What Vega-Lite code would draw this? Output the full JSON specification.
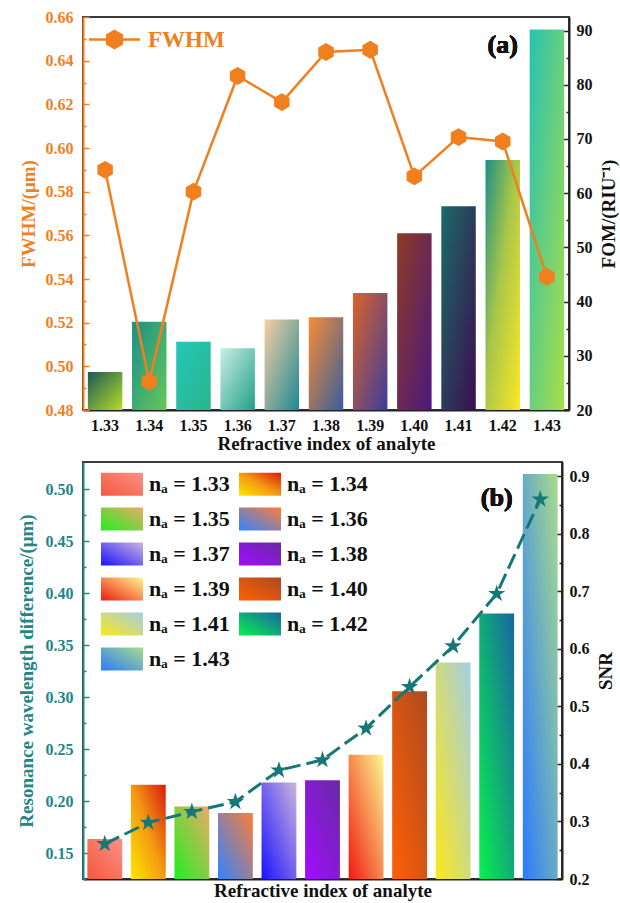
{
  "$schema": "https://vega.github.io/schema/vega-lite/v6.json",
  "padding": {"left": 16, "top": 8, "right": 2, "bottom": 2},
  "spacing": 7,
  "data": {
    "values": [
      {"n": "1.33", "fwhm": 0.590, "fom": 27.0, "dl": 0.1635, "snr": 0.261},
      {"n": "1.34", "fwhm": 0.493, "fom": 36.3, "dl": 0.2157, "snr": 0.298},
      {"n": "1.35", "fwhm": 0.580, "fom": 32.6, "dl": 0.1946, "snr": 0.317},
      {"n": "1.36", "fwhm": 0.633, "fom": 31.4, "dl": 0.1885, "snr": 0.334},
      {"n": "1.37", "fwhm": 0.621, "fom": 36.7, "dl": 0.2179, "snr": 0.389},
      {"n": "1.38", "fwhm": 0.644, "fom": 37.1, "dl": 0.2199, "snr": 0.407},
      {"n": "1.39", "fwhm": 0.645, "fom": 41.6, "dl": 0.2446, "snr": 0.462},
      {"n": "1.40", "fwhm": 0.587, "fom": 52.6, "dl": 0.3055, "snr": 0.534},
      {"n": "1.41", "fwhm": 0.605, "fom": 57.6, "dl": 0.3333, "snr": 0.605},
      {"n": "1.42", "fwhm": 0.603, "fom": 66.1, "dl": 0.3804, "snr": 0.696},
      {"n": "1.43", "fwhm": 0.541, "fom": 90.2, "dl": 0.5144, "snr": 0.860}
    ]
  },
  "vconcat": [
    {
      "width": 486,
      "height": 393,
      "layer": [
        {
          "mark": {"type": "bar"},
          "encoding": {
            "x": {
              "field": "n", "type": "nominal",
              "scale": {"paddingInner": 0.22, "paddingOuter": 0.11},
              "axis": {"title": "Refractive index of analyte", "labelAngle": 0, "tickSize": -5, "labelPadding": 12, "titlePadding": 1}
            },
            "y": {
              "field": "fom", "type": "quantitative",
              "scale": {"domain": [20, 92.5], "nice": false, "zero": false},
              "axis": {
                "orient": "right", "title": "FOM/(RIU⁻¹)", "titleAngle": 270, "titleBaseline": "top", "titlePadding": 7,
                "values": [20, 25, 30, 35, 40, 45, 50, 55, 60, 65, 70, 75, 80, 85, 90],
                "labelExpr": "datum.value % 10 == 0 ? datum.label : ''",
                "tickSize": {"condition": {"test": "datum.value % 10 == 0", "value": -6}, "value": -3},
                "labelPadding": 13
              }
            },
            "y2": {"datum": 20},
            "color": {
              "condition": [
                {"test": "datum.n == '1.33'", "value": {"gradient": "linear", "x1": 0, "y1": 0, "x2": 1, "y2": 1, "stops": [{"offset": 0, "color": "#1b5956"}, {"offset": 1, "color": "#b5dc2a"}]}},
                {"test": "datum.n == '1.34'", "value": {"gradient": "linear", "x1": 0, "y1": 0, "x2": 1, "y2": 1, "stops": [{"offset": 0, "color": "#1a8f88"}, {"offset": 1, "color": "#66c75a"}]}},
                {"test": "datum.n == '1.35'", "value": {"gradient": "linear", "x1": 0, "y1": 0, "x2": 1, "y2": 1, "stops": [{"offset": 0, "color": "#25c6b8"}, {"offset": 1, "color": "#2ab58c"}]}},
                {"test": "datum.n == '1.36'", "value": {"gradient": "linear", "x1": 0, "y1": 0, "x2": 1, "y2": 1, "stops": [{"offset": 0, "color": "#cbeee4"}, {"offset": 1, "color": "#21a08a"}]}},
                {"test": "datum.n == '1.37'", "value": {"gradient": "linear", "x1": 0, "y1": 0, "x2": 1, "y2": 1, "stops": [{"offset": 0, "color": "#f7cfa4"}, {"offset": 1, "color": "#1e8893"}]}},
                {"test": "datum.n == '1.38'", "value": {"gradient": "linear", "x1": 0, "y1": 0, "x2": 1, "y2": 1, "stops": [{"offset": 0, "color": "#f88c36"}, {"offset": 1, "color": "#385e9c"}]}},
                {"test": "datum.n == '1.39'", "value": {"gradient": "linear", "x1": 0, "y1": 0, "x2": 1, "y2": 1, "stops": [{"offset": 0, "color": "#dc6328"}, {"offset": 1, "color": "#3c3c9e"}]}},
                {"test": "datum.n == '1.40'", "value": {"gradient": "linear", "x1": 0, "y1": 0, "x2": 1, "y2": 1, "stops": [{"offset": 0, "color": "#8e3b24"}, {"offset": 1, "color": "#4b187e"}]}},
                {"test": "datum.n == '1.41'", "value": {"gradient": "linear", "x1": 0, "y1": 0, "x2": 1, "y2": 1, "stops": [{"offset": 0, "color": "#1b6b66"}, {"offset": 1, "color": "#3b0d50"}]}},
                {"test": "datum.n == '1.42'", "value": {"gradient": "linear", "x1": 0, "y1": 0, "x2": 1, "y2": 1, "stops": [{"offset": 0, "color": "#1a8f86"}, {"offset": 0.45, "color": "#a8c64a"}, {"offset": 1, "color": "#fde725"}]}},
                {"test": "datum.n == '1.43'", "value": {"gradient": "linear", "x1": 0, "y1": 0, "x2": 1, "y2": 1, "stops": [{"offset": 0, "color": "#27c1b3"}, {"offset": 1, "color": "#a8de48"}]}}
              ],
              "value": "#2aa58f"
            }
          }
        },
        {
          "encoding": {
            "x": {"field": "n", "type": "nominal"},
            "y": {
              "field": "fwhm", "type": "quantitative",
              "scale": {"domain": [0.48, 0.66], "nice": false, "zero": false},
              "axis": {
                "orient": "left", "title": "FWHM/(μm)", "titlePadding": 7,
                "values": [0.48, 0.49, 0.5, 0.51, 0.52, 0.53, 0.54, 0.55, 0.56, 0.57, 0.58, 0.59, 0.6, 0.61, 0.62, 0.63, 0.64, 0.65, 0.66],
                "labelExpr": "round(datum.value*100) % 2 == 0 ? format(datum.value, '.2f') : ''",
                "tickSize": {"condition": {"test": "round(datum.value*100) % 2 == 0", "value": -6}, "value": -3},
                "labelPadding": 16,
                "domainColor": "#F07F1E", "tickColor": "#F07F1E", "labelColor": "#F07F1E", "titleColor": "#F07F1E"
              }
            }
          },
          "layer": [
            {
              "mark": {"type": "line", "strokeWidth": 2.5},
              "encoding": {
                "color": {
                  "datum": "FWHM", "type": "nominal",
                  "scale": {"range": ["#F07F1E"]},
                  "legend": {
                    "orient": "none", "legendX": 20, "legendY": 11, "title": null, "padding": 0,
                    "symbolType": "M-3,0H-0.866M0.866,0H3M0,-1L0.866,-0.5L0.866,0.5L0,1L-0.866,0.5L-0.866,-0.5Z",
                    "symbolSize": 289, "symbolStrokeWidth": 2.5,
                    "symbolFillColor": "#F07F1E", "symbolStrokeColor": "#F07F1E",
                    "labelFontSize": 23, "labelColor": "#F07F1E", "labelFont": "Liberation Serif", "labelFontWeight": "bold", "labelOffset": 22,
                    "encoding": {"symbols": {"fill": {"value": "#F07F1E"}, "stroke": {"value": "#F07F1E"}, "strokeWidth": {"value": 2.5}}}
                  }
                }
              }
            },
            {
              "mark": {"type": "point", "shape": "M0,-1L0.866,-0.5L0.866,0.5L0,1L-0.866,0.5L-0.866,-0.5Z", "filled": true, "size": 320, "color": "#F07F1E", "opacity": 1}
            },
            {
              "mark": {"type": "text", "text": "(a)", "font": "Liberation Serif", "fontSize": 26, "fontWeight": "bold", "color": "#111", "baseline": "middle"},
              "encoding": {
                "x": {"datum": "1.42", "type": "nominal"},
                "y": {"datum": 0.647, "type": "quantitative"}
              }
            }
          ]
        }
      ],
      "resolve": {"scale": {"y": "independent"}}
    },
    {
      "width": 479,
      "height": 417,
      "layer": [
        {
          "mark": {"type": "bar", "strokeWidth": 0},
          "encoding": {
            "x": {
              "field": "n", "type": "nominal",
              "scale": {"paddingInner": 0.2, "paddingOuter": 0.1},
              "axis": {"title": "Refractive index of analyte", "labels": false, "tickSize": -5, "titlePadding": 2}
            },
            "y": {
              "field": "dl", "type": "quantitative",
              "scale": {"domain": [0.125, 0.526], "nice": false, "zero": false},
              "axis": {
                "orient": "left", "title": "Resonance wavelength difference/(μm)", "titlePadding": 9,
                "values": [0.125, 0.15, 0.175, 0.2, 0.225, 0.25, 0.275, 0.3, 0.325, 0.35, 0.375, 0.4, 0.425, 0.45, 0.475, 0.5],
                "labelExpr": "round(datum.value*40) % 2 == 0 ? format(datum.value, '.2f') : ''",
                "tickSize": {"condition": {"test": "round(datum.value*40) % 2 == 0", "value": -6}, "value": -3},
                "labelPadding": 16,
                "domainColor": "#238585", "tickColor": "#238585", "labelColor": "#238585", "titleColor": "#238585"
              }
            },
            "y2": {"datum": 0.125},
            "color": {
              "condition": [
                {"test": "datum.n == '1.33'", "value": {"gradient": "linear", "x1": 0, "y1": 1, "x2": 1, "y2": 0, "stops": [{"offset": 0, "color": "#f4583a"}, {"offset": 1, "color": "#fc9088"}]}},
                {"test": "datum.n == '1.34'", "value": {"gradient": "linear", "x1": 0, "y1": 1, "x2": 1, "y2": 0, "stops": [{"offset": 0, "color": "#ffe600"}, {"offset": 0.5, "color": "#f39a12"}, {"offset": 1, "color": "#d81a0c"}]}},
                {"test": "datum.n == '1.35'", "value": {"gradient": "linear", "x1": 0, "y1": 1, "x2": 1, "y2": 0, "stops": [{"offset": 0, "color": "#20ef20"}, {"offset": 1, "color": "#eeaa66"}]}},
                {"test": "datum.n == '1.36'", "value": {"gradient": "linear", "x1": 0, "y1": 1, "x2": 1, "y2": 0, "stops": [{"offset": 0, "color": "#2e84ff"}, {"offset": 1, "color": "#ff7c38"}]}},
                {"test": "datum.n == '1.37'", "value": {"gradient": "linear", "x1": 0, "y1": 1, "x2": 1, "y2": 0, "stops": [{"offset": 0, "color": "#1a12ff"}, {"offset": 1, "color": "#cdb4dc"}]}},
                {"test": "datum.n == '1.38'", "value": {"gradient": "linear", "x1": 0, "y1": 1, "x2": 1, "y2": 0, "stops": [{"offset": 0, "color": "#a40cff"}, {"offset": 1, "color": "#652ba2"}]}},
                {"test": "datum.n == '1.39'", "value": {"gradient": "linear", "x1": 0, "y1": 1, "x2": 1, "y2": 0, "stops": [{"offset": 0, "color": "#ee1a10"}, {"offset": 1, "color": "#fff890"}]}},
                {"test": "datum.n == '1.40'", "value": {"gradient": "linear", "x1": 0, "y1": 1, "x2": 1, "y2": 0, "stops": [{"offset": 0, "color": "#ff6005"}, {"offset": 1, "color": "#ae4a20"}]}},
                {"test": "datum.n == '1.41'", "value": {"gradient": "linear", "x1": 0, "y1": 1, "x2": 1, "y2": 0, "stops": [{"offset": 0, "color": "#fbe81a"}, {"offset": 1, "color": "#a4cde4"}]}},
                {"test": "datum.n == '1.42'", "value": {"gradient": "linear", "x1": 0, "y1": 1, "x2": 1, "y2": 0, "stops": [{"offset": 0, "color": "#0af04c"}, {"offset": 1, "color": "#1766a2"}]}},
                {"test": "datum.n == '1.43'", "value": {"gradient": "linear", "x1": 0, "y1": 1, "x2": 1, "y2": 0, "stops": [{"offset": 0, "color": "#2a7aff"}, {"offset": 1, "color": "#a8dc8a"}]}}
              ],
              "value": "#888888"
            },
            "stroke": {
              "field": "n", "type": "nominal",
              "scale": {"range": ["#f87560", "#f39a12", "#a8d040", "#b478b0", "#8a78f0", "#8520d5", "#fa9a50", "#d85512", "#d6dc7a", "#10ad78", "#6aaed0"]},
              "legend": {
                "orient": "none", "legendX": 24, "legendY": 7, "title": null, "padding": 0,
                "direction": "horizontal", "columns": 2, "rowPadding": 8, "columnPadding": 9,
                "symbolType": "M-1.4,-0.77H1.4V0.77H-1.4Z", "symbolSize": 900, "symbolStrokeWidth": 0,
                "labelFontSize": 22, "labelFont": "Liberation Serif", "labelFontWeight": "bold", "labelColor": "#111", "labelOffset": 12,
                "labelExpr": "'nₐ = ' + datum.label",
                "encoding": {
                  "symbols": {
                    "strokeWidth": {"value": 0},
                    "fill": {
                      "condition": [
                        {"test": "datum.value == '1.33'", "value": {"gradient": "linear", "x1": 0, "y1": 1, "x2": 1, "y2": 0, "stops": [{"offset": 0, "color": "#f4583a"}, {"offset": 1, "color": "#fc9088"}]}},
                        {"test": "datum.value == '1.34'", "value": {"gradient": "linear", "x1": 0, "y1": 1, "x2": 1, "y2": 0, "stops": [{"offset": 0, "color": "#ffe600"}, {"offset": 0.5, "color": "#f39a12"}, {"offset": 1, "color": "#d81a0c"}]}},
                        {"test": "datum.value == '1.35'", "value": {"gradient": "linear", "x1": 0, "y1": 1, "x2": 1, "y2": 0, "stops": [{"offset": 0, "color": "#20ef20"}, {"offset": 1, "color": "#eeaa66"}]}},
                        {"test": "datum.value == '1.36'", "value": {"gradient": "linear", "x1": 0, "y1": 1, "x2": 1, "y2": 0, "stops": [{"offset": 0, "color": "#2e84ff"}, {"offset": 1, "color": "#ff7c38"}]}},
                        {"test": "datum.value == '1.37'", "value": {"gradient": "linear", "x1": 0, "y1": 1, "x2": 1, "y2": 0, "stops": [{"offset": 0, "color": "#1a12ff"}, {"offset": 1, "color": "#cdb4dc"}]}},
                        {"test": "datum.value == '1.38'", "value": {"gradient": "linear", "x1": 0, "y1": 1, "x2": 1, "y2": 0, "stops": [{"offset": 0, "color": "#a40cff"}, {"offset": 1, "color": "#652ba2"}]}},
                        {"test": "datum.value == '1.39'", "value": {"gradient": "linear", "x1": 0, "y1": 1, "x2": 1, "y2": 0, "stops": [{"offset": 0, "color": "#ee1a10"}, {"offset": 1, "color": "#fff890"}]}},
                        {"test": "datum.value == '1.40'", "value": {"gradient": "linear", "x1": 0, "y1": 1, "x2": 1, "y2": 0, "stops": [{"offset": 0, "color": "#ff6005"}, {"offset": 1, "color": "#ae4a20"}]}},
                        {"test": "datum.value == '1.41'", "value": {"gradient": "linear", "x1": 0, "y1": 1, "x2": 1, "y2": 0, "stops": [{"offset": 0, "color": "#fbe81a"}, {"offset": 1, "color": "#a4cde4"}]}},
                        {"test": "datum.value == '1.42'", "value": {"gradient": "linear", "x1": 0, "y1": 1, "x2": 1, "y2": 0, "stops": [{"offset": 0, "color": "#0af04c"}, {"offset": 1, "color": "#1766a2"}]}},
                        {"test": "datum.value == '1.43'", "value": {"gradient": "linear", "x1": 0, "y1": 1, "x2": 1, "y2": 0, "stops": [{"offset": 0, "color": "#2a7aff"}, {"offset": 1, "color": "#a8dc8a"}]}}
                      ],
                      "value": "#888888"
                    }
                  }
                }
              }
            }
          }
        },
        {
          "encoding": {
            "x": {"field": "n", "type": "nominal"},
            "y": {
              "field": "snr", "type": "quantitative",
              "scale": {"domain": [0.2, 0.925], "nice": false, "zero": false},
              "axis": {
                "orient": "right", "title": "SNR", "titleAngle": 270, "titleBaseline": "top", "titlePadding": 7,
                "values": [0.2, 0.25, 0.3, 0.35, 0.4, 0.45, 0.5, 0.55, 0.6, 0.65, 0.7, 0.75, 0.8, 0.85, 0.9],
                "labelExpr": "round(datum.value*20) % 2 == 0 ? format(datum.value, '.1f') : ''",
                "tickSize": {"condition": {"test": "round(datum.value*20) % 2 == 0", "value": -6}, "value": -3},
                "labelPadding": 13
              }
            }
          },
          "layer": [
            {
              "mark": {"type": "line", "strokeWidth": 3, "strokeDash": [16, 6], "color": "#167777"}
            },
            {
              "mark": {"type": "point", "shape": "M0,-1L0.2245,-0.309L0.951,-0.309L0.363,0.118L0.588,0.809L0,0.382L-0.588,0.809L-0.363,0.118L-0.951,-0.309L-0.2245,-0.309Z", "filled": true, "size": 330, "color": "#167777", "opacity": 1}
            },
            {
              "mark": {"type": "text", "text": "(b)", "font": "Liberation Serif", "fontSize": 26, "fontWeight": "bold", "color": "#111", "baseline": "middle"},
              "encoding": {
                "x": {"datum": "1.42", "type": "nominal"},
                "y": {"datum": 0.863, "type": "quantitative"}
              }
            }
          ]
        }
      ],
      "resolve": {"scale": {"y": "independent"}}
    }
  ],
  "resolve": {"scale": {"color": "independent", "stroke": "independent"}, "legend": {"color": "independent", "stroke": "independent"}},
  "config": {
    "font": "Liberation Serif",
    "view": {"stroke": "#3a3a3a", "strokeWidth": 2},
    "axis": {
      "grid": false, "zindex": 1,
      "labelFont": "Liberation Serif", "titleFont": "Liberation Serif",
      "labelFontWeight": "bold", "titleFontWeight": "bold",
      "labelFontSize": 16, "titleFontSize": 19,
      "labelColor": "#111", "titleColor": "#111",
      "domainWidth": 2, "domainColor": "#222",
      "tickWidth": 1.5, "tickColor": "#222",
      "labelOverlap": false
    }
  }
}
